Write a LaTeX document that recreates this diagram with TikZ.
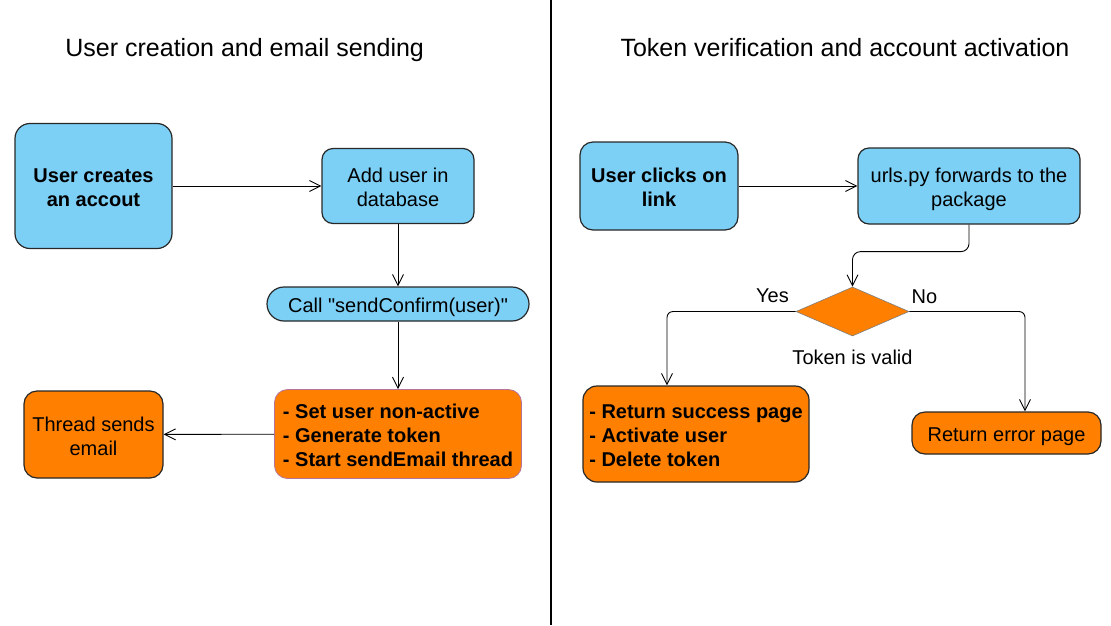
\documentclass[tikz,border=0pt]{standalone}
\usepackage{fontspec}
\setmainfont{Liberation Sans}[Ligatures=TeXOff]
\usetikzlibrary{shapes.geometric,arrows.meta}
\definecolor{boxblue}{RGB}{124,207,245}
\definecolor{boxorange}{RGB}{255,128,0}
\definecolor{boxedge}{RGB}{40,40,40}
\definecolor{mauveedge}{RGB}{181,115,157}
% line strut: every text line counts as 24pt, baseline slightly low
\newcommand{\ls}{\rule[-3.5pt]{0pt}{24pt}}
\newcommand{\boxfont}{\fontsize{20}{24}\selectfont\setlength{\lineskiplimit}{-20pt}}

\begin{document}
\begin{tikzpicture}[x=1pt,y=-1pt,
  box/.style={draw=boxedge,line width=1.2pt,inner sep=0pt,align=center,font=\boxfont},
  bluebox/.style={box,fill=boxblue},
  orangebox/.style={box,fill=boxorange},
  boldbox/.style={font=\boxfont\bfseries},
  arrow/.style={-{Straight Barb[length=11pt,width=11pt]},line width=0.9pt},
  tag/.style={font=\fontsize{20}{24}\selectfont},
  paneltitle/.style={font=\fontsize{25}{30}\selectfont,anchor=base}]
  % Page and panel divider
  \fill[white] (0,0) rectangle (1111,625);
  \useasboundingbox (0,0) rectangle (1111,625);
  \coordinate (divtop) at (551,0);
  \coordinate (divbottom) at (551,625);
  \draw[line width=2.5pt] (divtop) -- (divbottom);
  % Panel titles
  \node[paneltitle] (lefttitle) at (244.7,56) {User creation and email sending};
  \node[paneltitle] (righttitle) at (845,56) {Token verification and account activation};
  % Left panel boxes
  \node[bluebox,boldbox,minimum width=157pt,minimum height=125pt,rounded corners=15pt] (create) at (93.5,186) {\ls User creates\\an accout\ls};
  \node[bluebox,minimum width=152pt,minimum height=75pt,rounded corners=11pt] (adduser) at (398,186) {\ls Add user in\\database\ls};
  \node[bluebox,minimum width=262pt,minimum height=34pt,rounded corners=17pt] (confirm) at (398,304) {\ls Call "sendConfirm(user)"};
  \node[orangebox,boldbox,draw=mauveedge,line width=0.8pt,align=left,minimum width=247pt,minimum height=89pt,rounded corners=13pt] (prepare) at (398,434) {\ls - Set user non-active\\- Generate token\\- Start sendEmail thread\ls};
  \node[orangebox,minimum width=139pt,minimum height=87pt,rounded corners=13pt] (thread) at (93.5,434.5) {\ls Thread sends\\email\ls};
  % Left panel arrows
  \draw[arrow] (create) -- (adduser);
  \draw[arrow] (adduser) -- (confirm);
  \draw[arrow] (confirm) -- (prepare);
  \draw[arrow] (prepare) -- (thread);
  % Right panel boxes
  \node[bluebox,boldbox,minimum width=158pt,minimum height=88pt,rounded corners=13pt] (click) at (659,186) {\ls User clicks on\\link\ls};
  \node[bluebox,minimum width=222pt,minimum height=76pt,rounded corners=11pt] (urls) at (969,186) {\ls urls.py forwards to the\\package\ls};
  \node[diamond,draw=boxedge!60,line width=0.6pt,fill=boxorange,inner sep=0pt,minimum width=113pt,minimum height=49pt] (valid) at (852.5,311.5) {};
  \node[orangebox,boldbox,align=left,minimum width=226pt,minimum height=96pt,rounded corners=14pt] (success) at (696,434) {\ls - Return success page\\- Activate user\\- Delete token\ls};
  \node[orangebox,minimum width=189pt,minimum height=42pt,rounded corners=13pt] (error) at (1006.5,433) {\ls Return error page};
  % Right panel labels
  \node[tag] (validtag) at (852.5,357) {Token is valid};
  \node[tag] (yestag) at (772.5,296) {Yes};
  \node[tag] (notag) at (924.5,297) {No};
  % Right panel arrows
  \draw[arrow] (click) -- (urls);
  \draw[arrow,rounded corners=8pt] (urls.south) -- ++(0,27) -| (valid.north);
  \draw[arrow,rounded corners=6pt] (valid.west) -| ([xshift=-29pt]success.north);
  \draw[arrow,rounded corners=6pt] (valid.east) -| ([xshift=18.5pt]error.north);
\end{tikzpicture}
\end{document}
